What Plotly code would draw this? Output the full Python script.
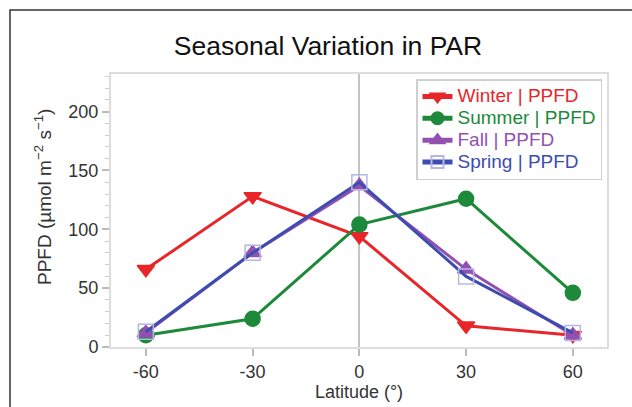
import plotly.graph_objects as go

latitude = [-60, -30, 0, 30, 60]
winter = [66, 128, 94, 18, 10]
summer = [10, 24, 104, 126, 46]
fall = [12, 80, 137, 66, 10]
spring = [13, 80, 140, 60, 12]
x_ticks = [-60, -30, 0, 30, 60]
x_labels = ["-60", "-30", "0", "30", "60"]
y_ticks = [0, 50, 100, 150, 200]

W, H = 632, 407
L, R, T, B = 111, 25, 74, 60
pw, ph = W - L - R, H - T - B

def px_x(p):
    return (p - L) / pw

def px_y(p):
    return (H - B - p) / ph

FONT = "Liberation Sans, Arial, sans-serif"

series = [
    ("Winter | PPFD", winter, "#e8262a", "triangle-down", 15, "#e8262a"),
    ("Summer | PPFD", summer, "#1c8a3a", "circle", 15, "#1c8a3a"),
    ("Fall | PPFD", fall, "#9450b0", "triangle-up", 15, "#9450b0"),
    ("Spring | PPFD", spring, "#3c4cb0", "square-open", 15, "#b4b6e6"),
]

fig = go.Figure()
for name, vals, col, sym, size, mcol in series:
    fig.add_trace(go.Scatter(
        x=latitude, y=vals, mode="lines+markers",
        name=f"<span style='color:{col};font-size:19px'>{name}</span>",
        line=dict(color=col, width=3),
        marker=dict(symbol=sym, size=size, color=mcol,
                    line=dict(color=mcol, width=1.5)),
    ))

fig.update_layout(
    width=W, height=H,
    margin=dict(l=L, r=R, t=T, b=B),
    paper_bgcolor="white", plot_bgcolor="white",
    font=dict(family=FONT, color="#333", size=18),
    title=dict(text="Seasonal Variation in PAR", x=328 / W, xanchor="center",
               y=1 - 46 / H, yanchor="middle", yref="container",
               font=dict(size=26.5, color="#111", family=FONT)),
    showlegend=True,
    legend=dict(x=px_x(416), y=px_y(79), xanchor="left", yanchor="top",
                bgcolor="white", bordercolor="#cfcfcf", borderwidth=1.5,
                font=dict(size=14.5), tracegroupgap=0, itemwidth=30,
                itemsizing="constant"),
    xaxis=dict(range=[-69.8, 69.6], tickvals=x_ticks, ticktext=x_labels,
               ticks="outside", automargin=False,
               ticklen=7, tickcolor="#bbb", tickwidth=1.5,
               showline=True, linecolor="#ddd", linewidth=2, mirror=True,
               showgrid=False, zeroline=True, zerolinecolor="#c4c4c4",
               zerolinewidth=2,
               title=dict(text="Latitude (°)", font=dict(size=18), standoff=5),
               tickfont=dict(size=18)),
    yaxis=dict(range=[0, 232], tickvals=y_ticks, ticks="outside",
               automargin=False,
               ticklen=7, tickcolor="#bbb", tickwidth=1.5,
               minor=dict(dtick=10, ticks="outside", ticklen=4,
                          tickcolor="#ccc", tickwidth=1.2),
               showline=True, linecolor="#ddd", linewidth=2, mirror=True,
               showgrid=False, zeroline=False,
               tickfont=dict(size=18)),
    annotations=[
        dict(text="PPFD (µmol m<sup>−2</sup> s<sup>−1</sup>)", textangle=-90,
             xref="paper", yref="paper", x=px_x(43), y=px_y(197),
             xanchor="center", yanchor="middle", showarrow=False,
             font=dict(size=19, color="#333")),
    ],
    shapes=[
        dict(type="rect", xref="paper", yref="paper",
             x0=px_x(10), y0=px_y(10), x1=px_x(700), y1=px_y(500),
             line=dict(color="#333", width=1.5), fillcolor="rgba(0,0,0,0)",
             layer="above"),
        dict(type="rect", xref="paper", yref="paper",
             x0=px_x(417), y0=px_y(81), x1=px_x(424), y1=px_y(88),
             line=dict(color="#666", width=1), fillcolor="#888",
             layer="above"),
    ],
)

fig.write_html("out.html")
